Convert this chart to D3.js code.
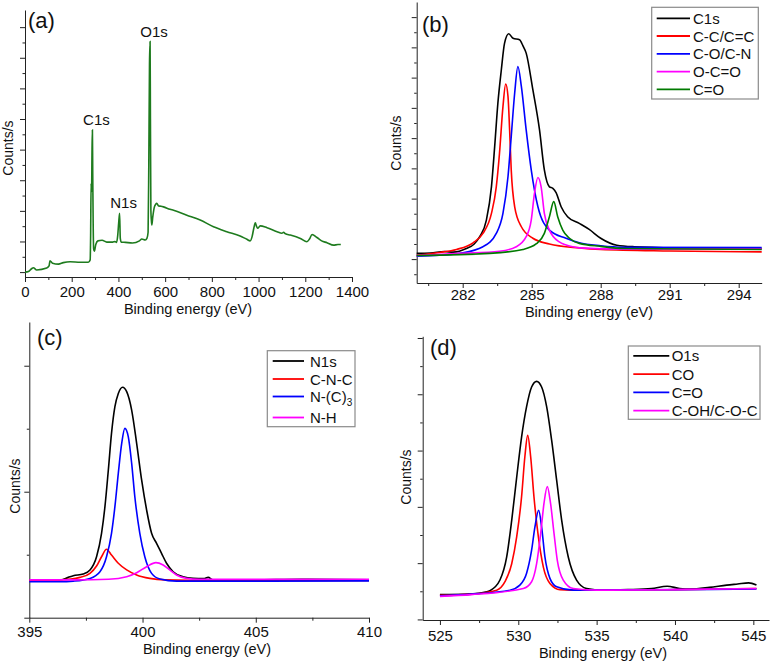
<!DOCTYPE html>
<html>
<head>
<meta charset="utf-8">
<script src="https://cdn.jsdelivr.net/npm/d3@7"></script>
<style>
body { margin: 0; background: #fff; }
svg { display: block; font-family: "Liberation Sans", Arial, sans-serif; }
.axis path, .axis line { stroke: #222; stroke-width: 1; }
.axis text { font-family: "Liberation Sans", Arial, sans-serif; font-size: 15px; fill: #111; }
.curve { fill: none; stroke-width: 1.6; }
.title { font-size: 14.5px; fill: #111; }
.peak { font-size: 15px; fill: #111; }
.ylab { font-size: 14px; fill: #111; }
.tag { font-size: 22px; fill: #111; }
.leg text { font-size: 15px; fill: #111; }
</style>
</head>
<body>
<svg id="chart" width="772" height="662"></svg>
<script>
// ---- data: [binding energy (eV), counts in tick units] ----

// (a) survey spectrum
var survey = [[0,0.0],[15,0.02],[28,0.11],[36,0.14],[50,0.07],[93,0.13],[103,0.2],[107,0.37],[118,0.29],[143,0.26],
  [164,0.31],[193,0.34],[236,0.32],[271,0.32],[279,0.4],[281,1.2],[283,2.9],[285,2.6],[287,4.0],[288.6,4.64],
  [290,3.2],[292,1.5],[294,0.75],[297,0.68],[303,0.9],[312,1.02],[330,1.04],[350,0.98],[375,0.98],[385,1.0],
  [392,0.97],[397,1.2],[401,1.6],[405,1.92],[408,1.1],[412,0.98],[430,0.97],[460,0.95],[490,1.02],[500,1.08],
  [515,1.05],[522,1.1],[527,1.3],[530,3.5],[533,6.8],[535.5,7.53],[537,5.0],[539,2.0],[541,1.7],[543,1.54],
  [547,1.8],[553,2.1],[560,2.22],[564,2.25],[572,2.16],[582,2.15],[593,2.13],[621,2.05],[636,2.02],[693,1.86],
  [750,1.70],[807,1.48],[864,1.32],[921,1.18],[950,1.07],[964,1.02],[972,1.15],[980,1.45],[986,1.61],[991,1.5],
  [996,1.43],[1007,1.51],[1036,1.45],[1079,1.32],[1100,1.27],[1107,1.30],[1115,1.25],[1136,1.21],[1179,1.10],
  [1207,0.99],[1218,1.08],[1229,1.23],[1250,1.13],[1270,1.02],[1293,0.96],[1321,0.88],[1340,0.9],[1352,0.9]];
var surveyPeaks = ["C1s","N1s","O1s"];
var surveyPeakE = [288.6,405,535.5];

// (b) C1s
var c1s = [[280,0.19],[280.6,0.2],[281.2,0.25],[281.6,0.23],[282.16,0.35],[282.5,0.5],[282.74,0.74],[283.03,1.29],
  [283.25,2.39],[283.39,3.72],[283.53,5.16],[283.68,6.26],[283.82,7.14],[284.0,7.45],[284.19,7.3],[284.47,7.25],
  [284.62,7.05],[284.76,6.81],[285.05,5.6],[285.34,4.27],[285.55,2.95],[285.77,2.39],[285.92,2.34],[286.06,2.2],
  [286.28,1.73],[286.56,1.40],[287.07,1.18],[287.5,0.98],[288.0,0.69],[288.7,0.46],[289.45,0.41],[291.6,0.37],[295,0.35]];
var ccBond = [[280,0.13],[281,0.22],[281.73,0.32],[282.45,0.54],[282.88,0.85],[283.25,1.51],[283.46,2.39],[283.6,3.5],
  [283.75,5.04],[283.87,5.79],[283.97,5.37],[284.04,4.27],[284.11,2.95],[284.26,1.73],[284.55,1.07],[285.05,0.69],
  [285.77,0.50],[287.07,0.37],[288,0.32],[291,0.27],[295,0.24]];
var coBond = [[280,0.1],[281,0.13],[281.87,0.19],[282.88,0.41],[283.46,0.85],[283.75,1.51],[283.97,2.73],[284.11,4.05],
  [284.26,5.49],[284.4,6.37],[284.55,5.71],[284.76,4.27],[284.98,2.95],[285.27,1.73],[285.77,0.96],[286.49,0.69],
  [287.07,0.54],[288,0.44],[289,0.39],[295,0.38]];
var ocoBond = [[280,0.12],[281.87,0.19],[283.6,0.26],[284.33,0.41],[284.76,0.74],[284.98,1.29],[285.12,2.17],[285.27,2.70],
  [285.41,2.39],[285.55,1.51],[285.77,0.96],[286.2,0.57],[286.78,0.41],[287.07,0.37],[289,0.33],[295,0.33]];
var c2oBond = [[280,0.12],[283.17,0.19],[284.62,0.32],[285.19,0.50],[285.55,0.85],[285.77,1.40],[285.96,1.90],[286.13,1.40],
  [286.35,0.96],[286.64,0.69],[287.07,0.52],[288,0.42],[289,0.35],[295,0.32]];
var namesB = ["C1s","C-C/C=C","C-O/C-N","O-C=O","C=O"];

// (c) N1s
var n1s = [[395,3.0],[395.5,2.95],[396,3.0],[396.35,2.99],[396.72,3.2],[396.94,3.33],[397.38,3.47],[397.68,3.79],
  [397.97,4.84],[398.19,6.7],[398.34,8.81],[398.49,11.72],[398.63,14.63],[398.78,16.75],[398.93,17.8],[399.12,18.29],
  [399.3,17.94],[399.52,16.48],[399.74,13.84],[399.96,10.93],[400.18,8.55],[400.4,6.7],[400.62,5.9],[400.84,5.11],
  [401.06,4.32],[401.35,3.65],[401.79,3.25],[402.23,3.12],[402.7,3.1],[402.9,3.2],[403.1,3.0],[403.41,2.99],
  [405,3.0],[407,3.05],[410,3.0]];
var cncBond = [[395,2.95],[396.35,3.0],[397.24,3.2],[397.68,3.52],[397.97,4.1],[398.19,4.84],[398.41,5.43],[398.63,4.97],
  [398.93,4.32],[399.3,3.79],[399.74,3.39],[400.32,3.12],[401,3.0],[403,2.95],[410,2.95]];
var nc3Bond = [[395,2.85],[396.35,2.85],[396.94,2.9],[397.68,3.12],[398.12,3.65],[398.41,4.84],[398.63,6.7],[398.78,8.81],
  [398.93,11.46],[399.08,13.84],[399.22,15.03],[399.37,14.37],[399.52,12.25],[399.66,9.6],[399.88,6.7],[400.1,4.84],
  [400.4,3.52],[400.77,3.07],[401.5,2.9],[410,2.92]];
var nhBond = [[395,3.0],[397,3.0],[398.5,3.05],[399.3,3.25],[399.74,3.57],[400.18,4.05],[400.59,4.37],[400.91,4.18],
  [401.2,3.79],[401.5,3.39],[401.94,3.12],[402.5,3.05],[410,3.05]];
var namesC = ["N1s","C-N-C","N-(C)","N-H"];

// (d) O1s
var o1s = [[525,4.4],[526.91,4.5],[528,4.9],[528.19,5.1],[528.83,7.0],[529.26,11.1],[529.58,17.6],[529.9,25.3],
  [530.21,32.4],[530.53,37.8],[530.85,41.3],[531.17,42.3],[531.49,41.3],[531.81,37.8],[532.13,31.8],[532.45,24.7],
  [532.77,17.6],[533.19,11.1],[533.72,7.0],[534.36,5.5],[535.4,5.2],[537,5.3],[538.5,5.5],[539.5,5.9],[540.3,5.5],
  [541,5.4],[542.2,5.7],[543.3,6.1],[544,6.3],[544.7,6.5],[545.2,6.1]];
var coO = [[525,4.3],[527,4.5],[528.62,5.2],[529.15,6.7],[529.58,9.9],[529.9,14.7],[530.21,21.8],[530.42,28.9],[530.6,32.7],
  [530.79,28.9],[531.0,21.8],[531.28,14.7],[531.6,9.3],[532.02,6.4],[532.66,5.3],[534,5.2],[540,5.3],[545.2,5.5]];
var c2oO = [[525,4.2],[527,4.5],[529.47,5.2],[530.1,6.1],[530.53,8.2],[530.85,12.3],[531.06,16.4],[531.3,19.4],[531.49,16.4],
  [531.7,11.1],[532.02,7.3],[532.45,5.8],[533.5,5.2],[540,5.3],[545.2,5.4]];
var cohO = [[525,4.1],[527,4.4],[530.32,5.5],[530.85,6.7],[531.17,9.9],[531.43,15.3],[531.64,20.6],[531.85,23.6],[532.06,20.6],
  [532.28,15.3],[532.49,10.5],[532.87,7.0],[533.51,5.5],[535,5.2],[540,5.3],[545.2,5.5]];
var namesD = ["O1s","CO","C=O","C-OH/C-O-C"];

// tick values
var xTicksA = [0,200,400,600,800,1000,1200,1400];
var xTicksB = [282,285,288,291,294];
var xTicksC = [395,400,405,410];
var xTicksD = [525,530,535,540,545];

var colors = ["#000000","#ff0000","#0000ff","#ff00ff","#007a00"];

var svg = d3.select("#chart");

// draws the two axes of one panel; minor ticks come from a second tick-only axis
function axes(g, x, y, xMajor, xMinor, yMajor, yMinor, pad) {
    var y0 = y.range()[0], x0 = x.range()[0];
    g.append("g").attr("class", "axis")
	.attr("transform", "translate(0," + y0 + ")")
	.call(d3.axisBottom(x).tickValues(xMinor).tickSize(3).tickFormat(""))
	.select(".domain").remove();
    g.append("g").attr("class", "axis")
	.attr("transform", "translate(0," + y0 + ")")
	.call(d3.axisBottom(x).tickValues(xMajor).tickSize(5).tickSizeOuter(0).tickPadding(pad).tickFormat(d3.format("d")));
    g.append("g").attr("class", "axis")
	.attr("transform", "translate(" + x0 + ",0)")
	.call(d3.axisLeft(y).tickValues(yMinor).tickSize(2.5).tickFormat(""))
	.select(".domain").remove();
    g.append("g").attr("class", "axis")
	.attr("transform", "translate(" + x0 + ",0)")
	.call(d3.axisLeft(y).tickValues(yMajor).tickSize(5).tickSizeOuter(0).tickFormat(""));
    g.selectAll(".axis text").attr("font-size", null).attr("font-family", null);
}

function curves(g, x, y, series, cols) {
    var line = d3.line().x(d => x(d[0])).y(d => y(d[1])).curve(d3.curveMonotoneX);
    g.selectAll("path.curve")
	.data(series).enter().append("path")
	.attr("class", "curve")
	.attr("stroke", (d, i) => cols[i])
	.attr("d", line);
}

function labels(g, tag, tagX, tagY, xTitleX, xTitleY, yTitleX, yTitleY) {
    g.append("text").attr("class", "tag").attr("x", tagX).attr("y", tagY).text(tag);
    g.append("text").attr("class", "title").attr("x", xTitleX).attr("y", xTitleY)
	.attr("text-anchor", "middle").text("Binding energy (eV)");
    g.append("text").attr("class", "ylab")
	.attr("transform", "translate(" + yTitleX + "," + yTitleY + ") rotate(-90)")
	.attr("text-anchor", "middle").text("Counts/s");
}

function legend(g, box, lineX, textX, rows, names) {
    var lg = g.append("g").attr("class", "leg");
    lg.append("rect").attr("x", box[0]).attr("y", box[1]).attr("width", box[2]).attr("height", box[3])
	.attr("fill", "#fff").attr("stroke", "#8a8a8a").attr("stroke-width", 1.2);
    names.forEach(function(n, i) {
	lg.append("line").attr("x1", lineX[0]).attr("x2", lineX[1]).attr("y1", rows[i]).attr("y2", rows[i])
	    .attr("stroke", colors[i]).attr("stroke-width", 1.8);
	lg.append("text").attr("x", textX).attr("y", rows[i] + 5.5).text(n);
    });
    return lg;
}

// ---------- (a) survey ----------
var ga = svg.append("g").attr("id", "pa");
var xa = d3.scaleLinear().domain([0, 1400]).range([25, 352]);
var ya = d3.scaleLinear().domain([-0.16, 8.56]).range([277, 10]);
axes(ga, xa, ya, xTicksA, d3.range(100, 1400, 200), d3.range(0, 9, 1), d3.range(0.5, 8.5, 1), 4.3);
curves(ga, xa, ya, [survey], ["#1e7b1e"]);
// peak names sit just above the highest survey point of each peak
surveyPeaks.forEach(function(name, i) {
    var top = survey.filter(d => Math.abs(d[0] - surveyPeakE[i]) < 6);
    var ymax = d3.max(top, d => d[1]);
    ga.append("text").attr("class", "peak").attr("text-anchor", "middle")
	.attr("x", xa(surveyPeakE[i]) + 4)
	.attr("y", ya(ymax) - 5)
	.text(name);
});
labels(ga, "(a)", 28, 28, 188, 314, 13, 148);

// ---------- (b) C1s ----------
var gb = svg.append("g").attr("id", "pb");
var xb = d3.scaleLinear().domain([280, 295]).range([416.7, 761.7]);
var yb = d3.scaleLinear().domain([-0.79, 8.5]).range([283, 2]);
axes(gb, xb, yb, xTicksB, d3.range(280.5, 295, 3), d3.range(0, 9, 1), d3.range(-0.5, 8.5, 1), 1.4);
curves(gb, xb, yb, [c1s, ccBond, coBond, ocoBond, c2oBond], colors);
labels(gb, "(b)", 422, 32, 589, 316.5, 401, 143);
legend(gb, [651.7, 7.3, 106.6, 91.7], [656.7, 690], 693, [18.3, 36, 53.8, 71.6, 89.3], namesB);

// ---------- (c) N1s ----------
var gc = svg.append("g").attr("id", "pc");
var xc = d3.scaleLinear().domain([395, 410]).range([29.3, 369]);
var yc = d3.scaleLinear().domain([0, 23.47]).range([617.7, 322]);
axes(gc, xc, yc, xTicksC, [397.5, 402.5, 407.5], [0, 10, 20], [5, 15], 3.6);
curves(gc, xc, yc, [n1s, cncBond, nc3Bond, nhBond], colors);
labels(gc, "(c)", 37, 345, 207, 654, 20, 486);
var lc = legend(gc, [267.3, 350.7, 87.7, 76], [272.7, 304], 310, [361, 379, 396.5, 417.5], namesC);
lc.selectAll("text").filter((d, i) => i == 2)
    .append("tspan").attr("dy", 4).attr("font-size", "10px").text("3");

// ---------- (d) O1s ----------
var gd = svg.append("g").attr("id", "pd");
var xd = d3.scaleLinear().domain([523.9, 546]).range([422.7, 769]);
var yd = d3.scaleLinear().domain([-0.1, 50.3]).range([620, 336.3]);
axes(gd, xd, yd, xTicksD, [527.5, 532.5, 537.5, 542.5], d3.range(0, 60, 10), d3.range(5, 50, 10), 5.3);
curves(gd, xd, yd, [o1s, coO, c2oO, cohO], colors);
labels(gd, "(d)", 430, 355, 603, 657.5, 411, 477);
legend(gd, [628.3, 346, 131.7, 73.3], [633.3, 669.3], 671.7, [355.8, 374.1, 392.4, 410.7], namesD);
</script>
</body>
</html>
